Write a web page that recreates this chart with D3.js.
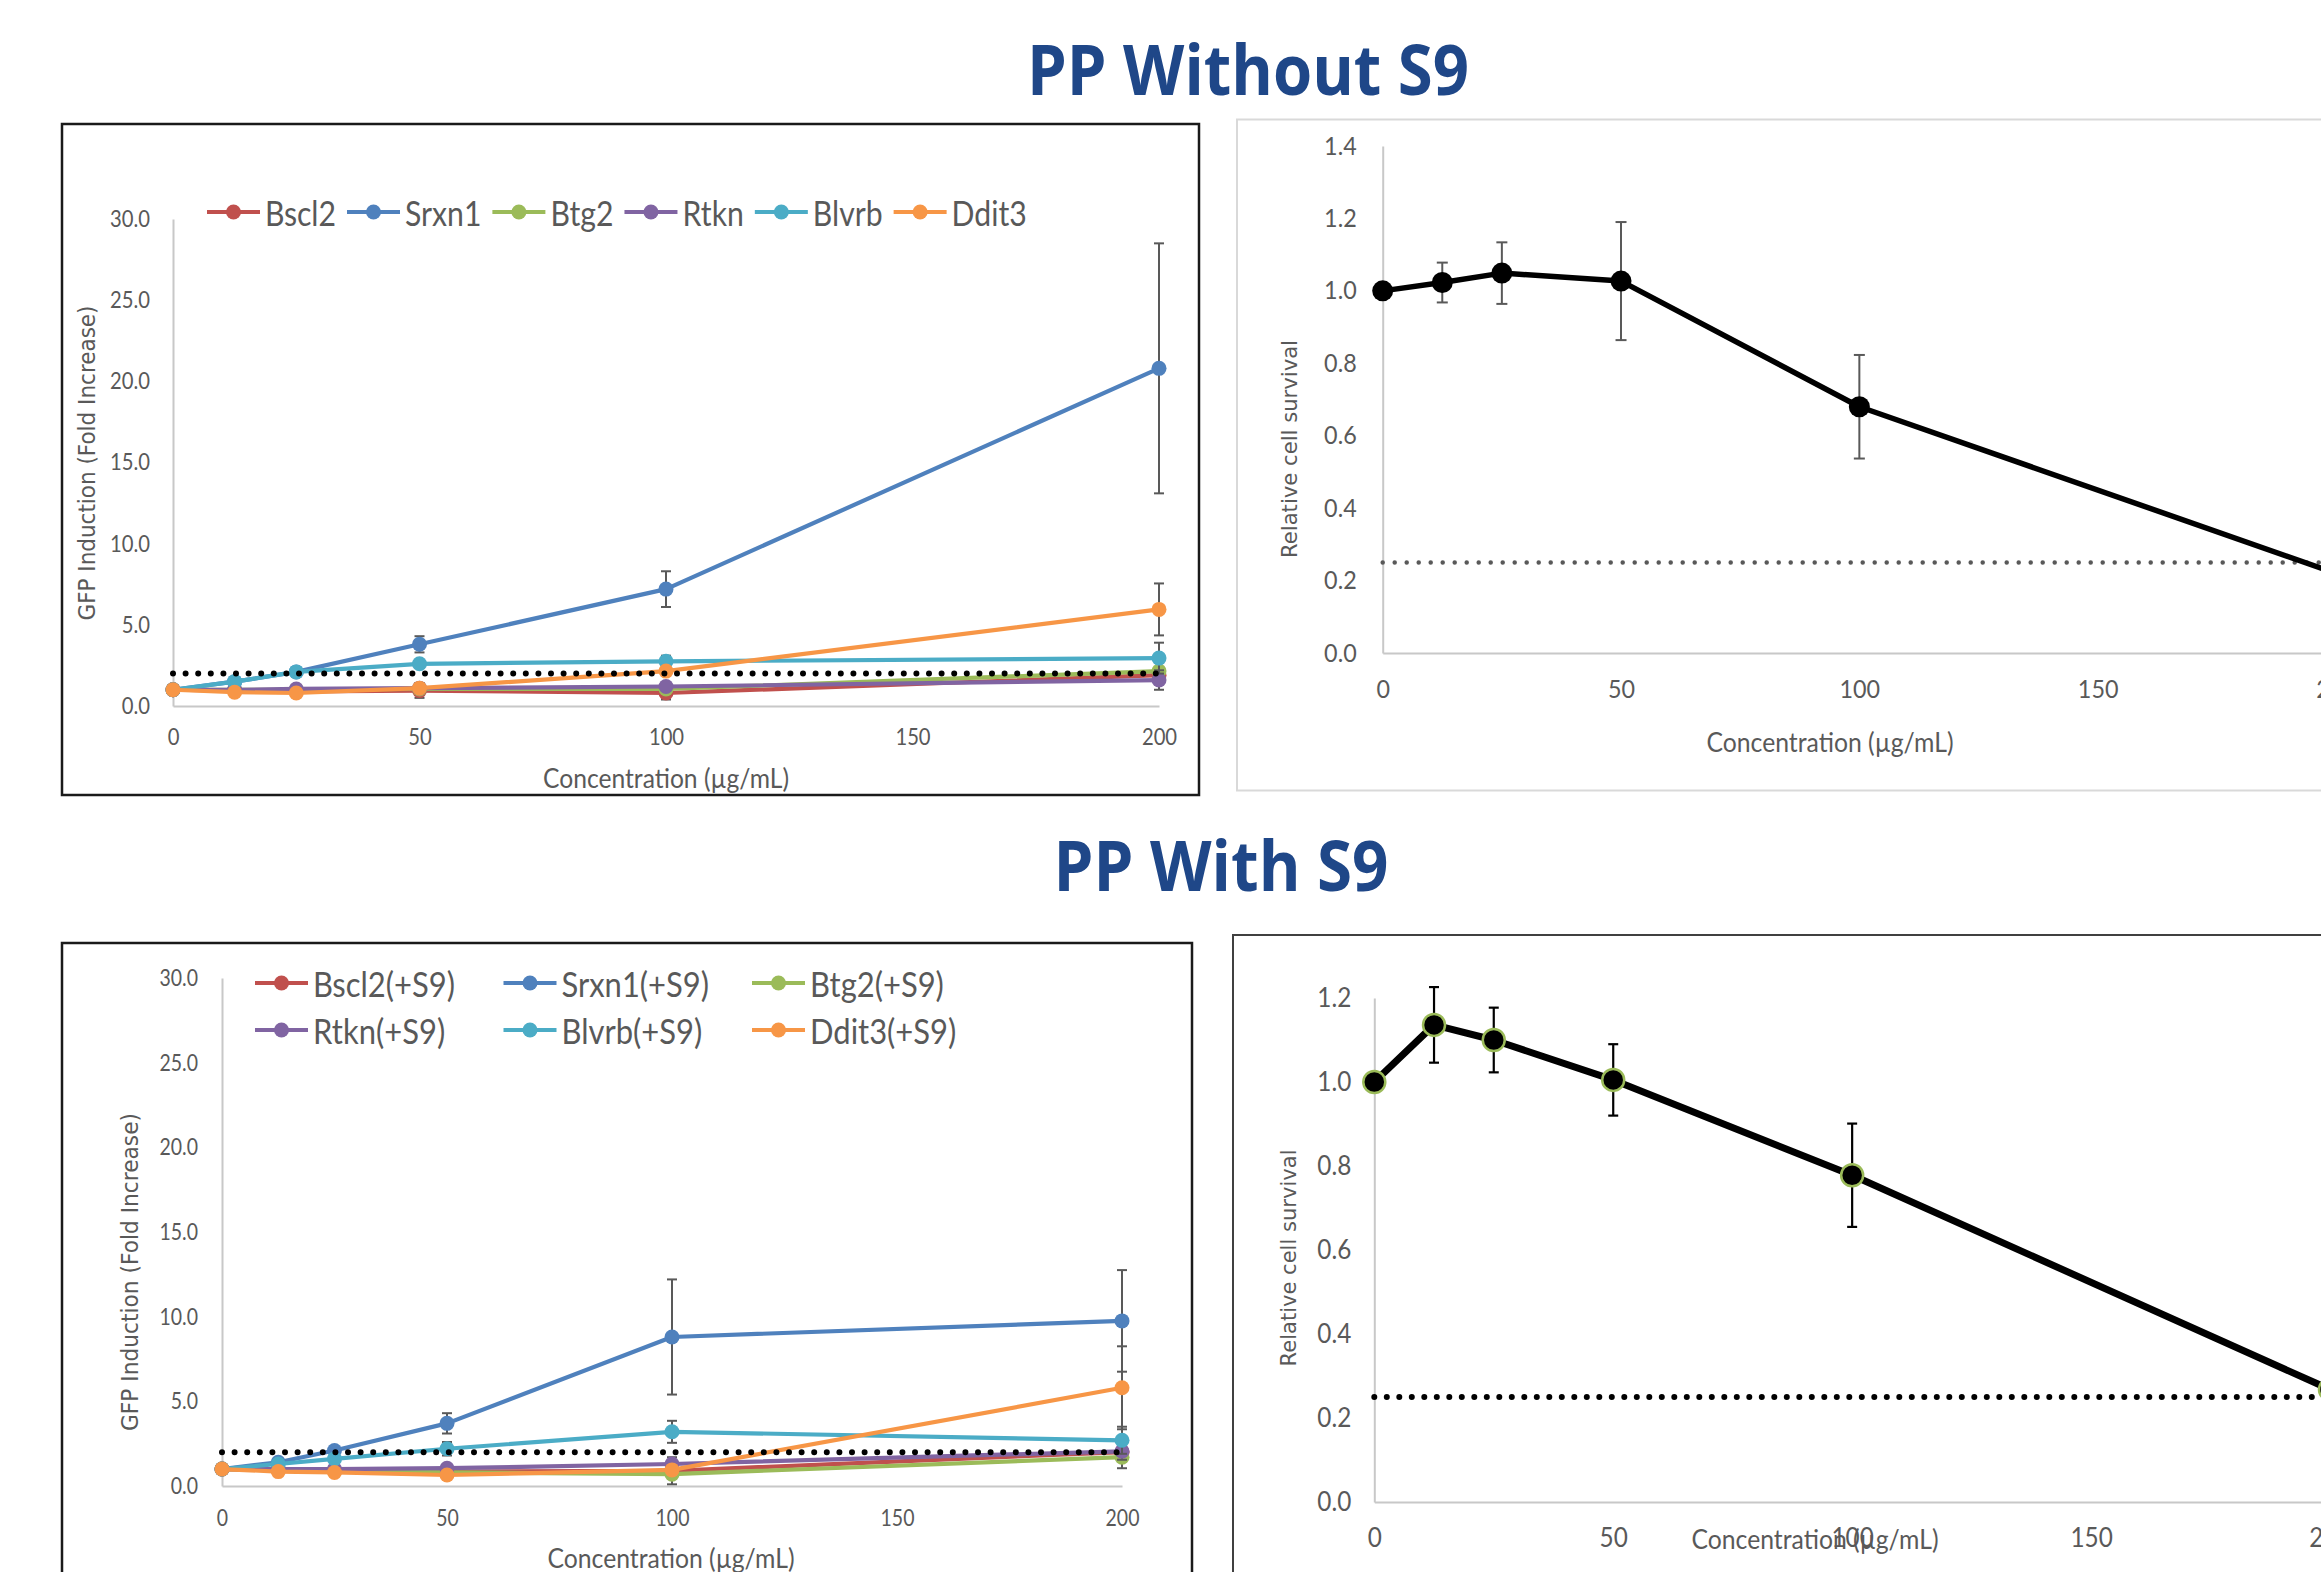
<!DOCTYPE html>
<html>
<head>
<meta charset="utf-8">
<script src="https://cdn.jsdelivr.net/npm/d3@7"></script>
<style>
  html, body { margin: 0; padding: 0; background: #ffffff; overflow: hidden; }
  svg { display: block; }
</style>
</head>
<body>
<svg id="chart" width="2321" height="1572"></svg>
<script>
// ---------------- DATA ----------------
const concentrations = [0, 12.5, 25, 50, 100, 200];
const concTicks = [0, 50, 100, 150, 200];
const gfpTicks = [0, 5, 10, 15, 20, 25, 30];
const survivalTicksNoS9 = [0, 0.2, 0.4, 0.6, 0.8, 1.0, 1.2, 1.4];
const survivalTicksS9 = [0, 0.2, 0.4, 0.6, 0.8, 1.0, 1.2];

const geneNames = ["Bscl2", "Srxn1", "Btg2", "Rtkn", "Blvrb", "Ddit3"];
const geneNamesS9 = ["Bscl2(+S9)", "Srxn1(+S9)", "Btg2(+S9)", "Rtkn(+S9)", "Blvrb(+S9)", "Ddit3(+S9)"];

// GFP induction (fold increase), without S9
const bscl2 = [1.0, 0.95, 0.9, 0.95, 0.8, 1.9];
const srxn1 = [1.0, 1.5, 2.1, 3.8, 7.2, 20.8];
const btg2  = [1.0, 1.0, 1.0, 1.05, 1.05, 2.15];
const rtkn  = [1.0, 1.0, 1.05, 1.1, 1.2, 1.6];
const blvrb = [1.0, 1.5, 2.1, 2.6, 2.75, 2.95];
const ddit3 = [1.0, 0.85, 0.8, 1.1, 2.15, 5.95];
const bscl2Err = [0, 0.05, 0.05, 0.45, 0.4, 0.3];
const srxn1Err = [0, 0.1, 0.2, 0.5, 1.1, 7.7];
const btg2Err  = [0, 0.05, 0.05, 0.1, 0.1, 0.2];
const rtknErr  = [0, 0.05, 0.05, 0.1, 0.15, 0.6];
const blvrbErr = [0, 0.1, 0.15, 0.15, 0.35, 0.95];
const ddit3Err = [0, 0.05, 0.05, 0.3, 0.2, 1.6];

// GFP induction (fold increase), with S9
const bscl2S9 = [1.0, 0.95, 0.9, 0.85, 0.9, 2.0];
const srxn1S9 = [1.0, 1.4, 2.1, 3.7, 8.8, 9.75];
const btg2S9  = [1.0, 0.95, 0.9, 0.8, 0.7, 1.7];
const rtknS9  = [1.0, 1.0, 1.0, 1.05, 1.3, 2.05];
const blvrbS9 = [1.0, 1.3, 1.6, 2.2, 3.2, 2.7];
const ddit3S9 = [1.0, 0.85, 0.8, 0.65, 0.95, 5.8];
const bscl2S9Err = [0, 0.05, 0.05, 0.1, 0.2, 0.5];
const srxn1S9Err = [0, 0.1, 0.2, 0.6, 3.4, 3.0];
const btg2S9Err  = [0, 0.05, 0.05, 0.1, 0.6, 0.65];
const rtknS9Err  = [0, 0.05, 0.05, 0.1, 0.4, 0.5];
const blvrbS9Err = [0, 0.1, 0.1, 0.4, 0.65, 0.8];
const ddit3S9Err = [0, 0.05, 0.05, 0.1, 0.2, 2.45];

// Relative cell survival
const survivalNoS9    = [1.0, 1.023, 1.049, 1.027, 0.68, 0.22];
const survivalNoS9Err = [0, 0.055, 0.085, 0.163, 0.143, 0.05];
const survivalS9      = [1.0, 1.136, 1.10, 1.005, 0.778, 0.268];
const survivalS9Err   = [0, 0.09, 0.077, 0.085, 0.123, 0.05];

const gfpThreshold = 2.0;
const survivalThreshold = 0.25;

// ---------------- STYLE ----------------
const geneColors = ["#C0504D", "#4F81BD", "#9BBB59", "#8064A2", "#4BACC6", "#F79646"];
const FONT = "Lato, 'Open Sans', sans-serif";
const WIDE_FONT = "'DejaVu Sans', Verdana, sans-serif";
const TITLE_FONT = "'Open Sans', 'Noto Sans', sans-serif";
const GREY_TEXT = "#595959";

const svg = d3.select("#chart");

function textWidth(str, size, family, weight) {
  const t = svg.append("text").attr("font-family", family).attr("font-size", size)
    .attr("font-weight", weight || 400).text(str);
  const w = t.node().getComputedTextLength();
  t.remove();
  return w;
}
function squeeze(sel, sx) {
  sel.each(function () {
    const w = this.getComputedTextLength();
    this.setAttribute("textLength", w * sx);
    this.setAttribute("lengthAdjust", "spacingAndGlyphs");
  });
}
function fitTo(sel, len) {
  sel.attr("textLength", len).attr("lengthAdjust", "spacingAndGlyphs");
}

function styleAxis(a, size, sx) {
  a.attr("font-family", null).attr("font-size", null);
  a.select(".domain").attr("stroke", "#c8c8c8").attr("stroke-width", 2);
  const t = a.selectAll("text").attr("font-family", FONT).attr("font-size", size).attr("fill", GREY_TEXT);
  squeeze(t, sx);
}

function errorBars(g, x, y, vals, errs, color, width, cap) {
  const eb = g.append("g").attr("stroke", color).attr("stroke-width", width).attr("fill", "none");
  concentrations.forEach((c, i) => {
    const e = errs[i];
    if (!e) return;
    const cx = x(c), yt = y(vals[i] + e), yb = y(vals[i] - e);
    eb.append("line").attr("x1", cx).attr("x2", cx).attr("y1", yt).attr("y2", yb);
    eb.append("line").attr("x1", cx - cap / 2).attr("x2", cx + cap / 2).attr("y1", yt).attr("y2", yt);
    eb.append("line").attr("x1", cx - cap / 2).attr("x2", cx + cap / 2).attr("y1", yb).attr("y2", yb);
  });
}

function axisTitles(g, p) {
  const xt = g.append("text").attr("x", p.xTitleX).attr("y", p.xTitleY)
    .attr("text-anchor", "middle").attr("dominant-baseline", "central")
    .attr("font-family", FONT).attr("font-size", p.xTitleSize).attr("fill", GREY_TEXT)
    .text("Concentration (µg/mL)");
  fitTo(xt, p.xTitleLen);
  const yt = g.append("text").attr("transform", `translate(${p.yTitleX},${p.yTitleY}) rotate(-90)`)
    .attr("text-anchor", "middle").attr("dominant-baseline", "central")
    .attr("font-family", WIDE_FONT).attr("font-size", p.yTitleSize).attr("fill", GREY_TEXT)
    .text(p.yTitle);
  fitTo(yt, p.yTitleLen);
}

// ---------------- GFP PANEL ----------------
function gfpPanel(p) {
  const g = svg.append("g");
  g.append("rect").attr("x", p.box[0]).attr("y", p.box[1]).attr("width", p.box[2]).attr("height", p.box[3])
    .attr("fill", "none").attr("stroke", "#1a1a1a").attr("stroke-width", 2.5);

  const x = d3.scaleLinear().domain([0, 200]).range([p.x0, p.x200]);
  const y = d3.scaleLinear().domain([0, 30]).range([p.y0, p.y30]);

  const tickSx = p.tickRefW / textWidth("30.0", p.tickSize, FONT);
  const ya = g.append("g").attr("transform", `translate(${p.x0},0)`)
    .call(d3.axisLeft(y).tickValues(gfpTicks).tickFormat(d3.format(".1f")).tickSize(0).tickSizeOuter(0).tickPadding(p.yPad));
  const xa = g.append("g").attr("transform", `translate(0,${p.y0})`)
    .call(d3.axisBottom(x).tickValues(concTicks).tickFormat(d3.format("d")).tickSize(0).tickSizeOuter(0).tickPadding(p.xPad));
  styleAxis(ya, p.tickSize, tickSx);
  styleAxis(xa, p.tickSize, tickSx);

  axisTitles(g, p);

  const line = d3.line().x((d, i) => x(concentrations[i])).y(d => y(d));
  p.series.forEach((s, k) => {
    const sg = g.append("g");
    sg.append("path").datum(s.values).attr("d", line).attr("fill", "none")
      .attr("stroke", geneColors[k]).attr("stroke-width", 4.2).attr("stroke-linejoin", "round");
    errorBars(sg, x, y, s.values, s.errs, "#595959", 2, 10);
    sg.selectAll("circle").data(s.values).join("circle")
      .attr("cx", (d, i) => x(concentrations[i])).attr("cy", d => y(d)).attr("r", 7.5)
      .attr("fill", geneColors[k]);
  });

  // threshold (2-fold)
  g.append("line").attr("x1", x(0)).attr("x2", x(200)).attr("y1", y(gfpThreshold)).attr("y2", y(gfpThreshold))
    .attr("stroke", "#000").attr("stroke-width", 6).attr("stroke-linecap", "round")
    .attr("stroke-dasharray", "0 12.6");

  // legend
  const lgSx = p.legendRefW / textWidth(p.series[0].name, p.legendSize, FONT);
  let lx = p.legendX;
  p.series.forEach((s, k) => {
    let ix, iy;
    if (p.legendCols) {
      ix = p.legendX + (k % p.legendCols) * p.legendColW;
      iy = p.legendY + Math.floor(k / p.legendCols) * p.legendRowH;
    } else { ix = lx; iy = p.legendY; }
    const lg = g.append("g");
    lg.append("line").attr("x1", ix).attr("x2", ix + 53).attr("y1", iy).attr("y2", iy)
      .attr("stroke", geneColors[k]).attr("stroke-width", 4.2);
    lg.append("circle").attr("cx", ix + 26.5).attr("cy", iy).attr("r", 7.5).attr("fill", geneColors[k]);
    const t = lg.append("text").attr("x", ix + 58).attr("y", iy).attr("dominant-baseline", "central")
      .attr("font-family", FONT).attr("font-size", p.legendSize).attr("fill", GREY_TEXT).text(s.name);
    const w = t.node().getComputedTextLength() * lgSx;
    fitTo(t, w);
    lx = ix + 58 + w + 11;
  });
}

// ---------------- SURVIVAL PANEL ----------------
function survivalPanel(p) {
  const g = svg.append("g");
  g.append("rect").attr("x", p.box[0]).attr("y", p.box[1]).attr("width", p.box[2]).attr("height", p.box[3])
    .attr("fill", "none").attr("stroke", p.boxColor).attr("stroke-width", 2);

  const x = d3.scaleLinear().domain([0, 200]).range([p.x0, p.x200]);
  const y = d3.scaleLinear().domain([0, p.yMax]).range([p.y0, p.yTop]);

  const tickSx = p.tickRefW / textWidth("1.2", p.tickSize, FONT);
  const ya = g.append("g").attr("transform", `translate(${p.x0},0)`)
    .call(d3.axisLeft(y).tickValues(p.ticks).tickFormat(d3.format(".1f")).tickSize(0).tickSizeOuter(0).tickPadding(p.yPad));
  const xa = g.append("g").attr("transform", `translate(0,${p.y0})`)
    .call(d3.axisBottom(x).tickValues(concTicks).tickFormat(d3.format("d")).tickSize(0).tickSizeOuter(0).tickPadding(p.xPad));
  styleAxis(ya, p.tickSize, tickSx);
  styleAxis(xa, p.tickSize, tickSx);

  axisTitles(g, p);

  g.append("line").attr("x1", x(0)).attr("x2", x(200)).attr("y1", y(survivalThreshold)).attr("y2", y(survivalThreshold))
    .attr("stroke", p.dotColor).attr("stroke-width", p.dotW).attr("stroke-linecap", "round")
    .attr("stroke-dasharray", `0 ${p.dotGap}`);

  const line = d3.line().x((d, i) => x(concentrations[i])).y(d => y(d));
  g.append("path").datum(p.values).attr("d", line).attr("fill", "none")
    .attr("stroke", "#000").attr("stroke-width", p.lineW).attr("stroke-linejoin", "round");
  errorBars(g, x, y, p.values, p.errs, p.errColor, p.errW, p.cap);
  g.selectAll("circle.pt").data(p.values).join("circle").attr("class", "pt")
    .attr("cx", (d, i) => x(concentrations[i])).attr("cy", d => y(d)).attr("r", p.r)
    .attr("fill", "#000").attr("stroke", p.markerStroke).attr("stroke-width", p.markerStrokeW);
}

// ---------------- TITLES ----------------
function title(str, cx, baseline, len) {
  const t = svg.append("text").attr("x", cx).attr("y", baseline).attr("text-anchor", "middle")
    .attr("font-family", TITLE_FONT).attr("font-weight", 700).attr("font-size", 69)
    .attr("fill", "#1F4788").text(str);
  fitTo(t, len);
}
title("PP Without S9", 1248, 95, 442);
title("PP With S9", 1221, 891, 335);

// ---------------- PANELS ----------------
gfpPanel({
  box: [62, 124, 1137, 671],
  x0: 173, x200: 1159, y0: 706, y30: 219,
  tickSize: 23, tickRefW: 40, yPad: 23, xPad: 23,
  xTitleX: 666, xTitleY: 777, xTitleSize: 27, xTitleLen: 246,
  yTitle: "GFP Induction (Fold Increase)", yTitleX: 87, yTitleY: 463, yTitleSize: 23, yTitleLen: 315,
  legendX: 207, legendY: 212, legendSize: 34, legendRefW: 71,
  series: geneNames.map((n, k) => ({
    name: n,
    values: [bscl2, srxn1, btg2, rtkn, blvrb, ddit3][k],
    errs: [bscl2Err, srxn1Err, btg2Err, rtknErr, blvrbErr, ddit3Err][k]
  }))
});

gfpPanel({
  box: [62, 943, 1130, 800],
  x0: 222, x200: 1122, y0: 1486, y30: 978,
  tickSize: 23, tickRefW: 38.5, yPad: 24, xPad: 24,
  xTitleX: 671, xTitleY: 1557, xTitleSize: 27, xTitleLen: 247,
  yTitle: "GFP Induction (Fold Increase)", yTitleX: 130, yTitleY: 1272, yTitleSize: 23, yTitleLen: 318,
  legendX: 255, legendY: 983, legendSize: 34, legendRefW: 142,
  legendCols: 3, legendColW: 248.5, legendRowH: 47,
  series: geneNamesS9.map((n, k) => ({
    name: n,
    values: [bscl2S9, srxn1S9, btg2S9, rtknS9, blvrbS9, ddit3S9][k],
    errs: [bscl2S9Err, srxn1S9Err, btg2S9Err, rtknS9Err, blvrbS9Err, ddit3S9Err][k]
  }))
});

survivalPanel({
  box: [1237, 119.5, 1200, 671], boxColor: "#d9d9d9",
  x0: 1382.7, x200: 2336, y0: 653, yTop: 146, yMax: 1.4, ticks: survivalTicksNoS9,
  tickSize: 25, tickRefW: 32.6, yPad: 26, xPad: 27,
  xTitleX: 1830, xTitleY: 741, xTitleSize: 27, xTitleLen: 247,
  yTitle: "Relative cell survival", yTitleX: 1289, yTitleY: 449, yTitleSize: 22, yTitleLen: 218,
  values: survivalNoS9, errs: survivalNoS9Err,
  lineW: 5.5, r: 10.5, markerStroke: "none", markerStrokeW: 0,
  errColor: "#595959", errW: 2, cap: 11,
  dotColor: "#595959", dotW: 4.5, dotGap: 12
});

survivalPanel({
  box: [1233, 935, 1200, 800], boxColor: "#404040",
  x0: 1374.3, x200: 2330, y0: 1502, yTop: 998, yMax: 1.2, ticks: survivalTicksS9,
  tickSize: 27, tickRefW: 34, yPad: 23, xPad: 26,
  xTitleX: 1815, xTitleY: 1538, xTitleSize: 27, xTitleLen: 247,
  yTitle: "Relative cell survival", yTitleX: 1288, yTitleY: 1258, yTitleSize: 22, yTitleLen: 217,
  values: survivalS9, errs: survivalS9Err,
  lineW: 7, r: 11, markerStroke: "#9BBB59", markerStrokeW: 2.5,
  errColor: "#000", errW: 2.2, cap: 10,
  dotColor: "#000", dotW: 6, dotGap: 12.5
});
</script>
</body>
</html>
